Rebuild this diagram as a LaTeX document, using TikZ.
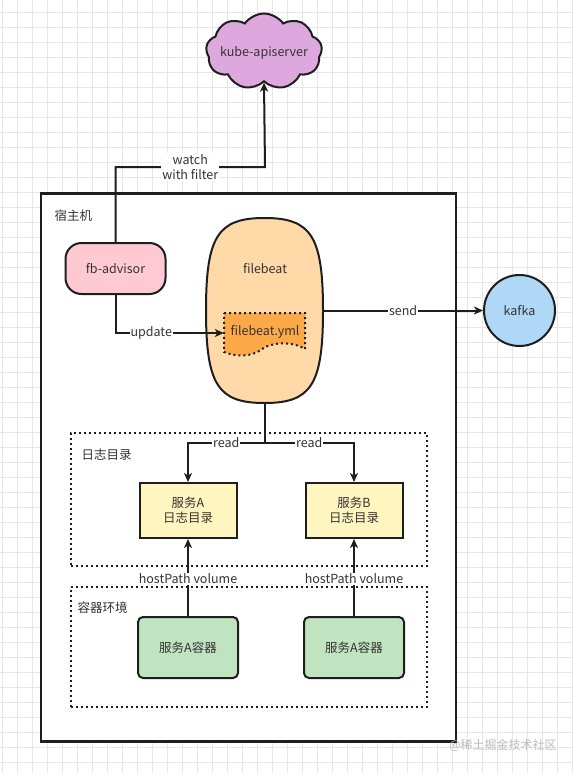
\documentclass[tikz,border=0pt]{standalone}
\usepackage{fontspec}
\setmainfont{Noto Sans CJK SC}
\usetikzlibrary{shapes.symbols,arrows.meta}
\definecolor{txt}{HTML}{333333}
\definecolor{gridc}{HTML}{E6E6E6}
\definecolor{edge}{HTML}{1E1E1E}
\definecolor{cloudfill}{HTML}{DCA8DE}
\definecolor{advfill}{HTML}{FFC9D3}
\definecolor{fbfill}{HTML}{FFD9A8}
\definecolor{ymlfill}{HTML}{FCA94A}
\definecolor{kafkafill}{HTML}{AFD7F6}
\definecolor{logfill}{HTML}{FFF6BF}
\definecolor{ctrfill}{HTML}{C1E4C0}
\definecolor{wm}{HTML}{BBBBBB}
\begin{document}
\begin{tikzpicture}[x=1pt,y=-1pt,
  every node/.style={font=\fontsize{12.5}{15}\selectfont, text=txt},
  shapeline/.style={draw=edge, line width=2pt},
  conn/.style={draw=edge, line width=2pt},
  arr/.style={conn, -{Stealth[length=9pt,width=8pt,inset=2.5pt]}},
  elabel/.style={fill=white, inner sep=1pt, align=center},
  dotbox/.style={draw=edge, line width=2pt, dash pattern=on 2pt off 3pt},
  logbox/.style={shapeline, fill=logfill, minimum width=97pt, minimum height=55pt, align=center, inner sep=0pt},
  ctrbox/.style={shapeline, fill=ctrfill, rounded corners=5pt, minimum width=100pt, minimum height=61pt, inner sep=0pt},
]
\useasboundingbox (0,0) rectangle (573,773);
\fill[white] (0,0) rectangle (573,773);
% background grid
\foreach \i in {0,...,38} \draw[gridc, line width=0.8pt] ({2+15*\i},0) -- ({2+15*\i},773);
\foreach \j in {0,...,50} \draw[gridc, line width=0.8pt] (0,{12.5+15*\j}) -- (573,{12.5+15*\j});

% host box
\node[draw=edge, line width=2.2pt, fill=white, minimum width=415pt, minimum height=548pt, inner sep=0pt] (host) at (248.5,467.5) {};
\node[anchor=west] (hostlbl) at (51,216) {宿主机};

% dotted groups
\node[dotbox, minimum width=356pt, minimum height=133pt, inner sep=0pt] (logs) at (248.8,499) {};
\node[anchor=west] (logslbl) at (78,455) {日志目录};
\node[dotbox, minimum width=356pt, minimum height=120pt, inner sep=0pt] (ctr) at (248.8,647) {};
\node[anchor=west] (ctrlbl) at (74,608) {容器环境};

% cloud
\node[cloud, cloud puffs=9, cloud puff arc=110, aspect=1.6, shapeline, fill=cloudfill,
      minimum width=116pt, minimum height=76pt, inner sep=0pt] (api) at (264,51.5) {};
\node (apit) at (264,53) {kube-apiserver};

% fb-advisor
\node[shapeline, fill=advfill, rounded corners=16pt, minimum width=100pt, minimum height=51pt, inner sep=0pt] (adv) at (115.5,268.5) {fb-advisor};

% filebeat
\node[minimum width=117pt, minimum height=185pt, inner sep=0pt] (fb) at (264.5,310.5) {};
\draw[shapeline, fill=fbfill]
  (206,310.5) .. controls (206,236) and (218,218) .. (264.5,218)
  .. controls (311,218) and (323,236) .. (323,310.5)
  .. controls (323,385) and (311,403) .. (264.5,403)
  .. controls (218,403) and (206,385) .. (206,310.5) -- cycle;
\node (fbt) at (265,269) {filebeat};

% filebeat.yml
\node[minimum width=81pt, minimum height=40pt, inner sep=0pt] (yml) at (264.5,333) {};
\draw[dotbox, fill=ymlfill]
  (224,313) -- (305,313) -- (305,349)
  .. controls (292,341) and (272,342) .. (262,349)
  .. controls (252,357) and (236,357) .. (224,352) -- cycle;
\node (ymlt) at (265,332) {filebeat.yml};

% kafka
\node[circle, shapeline, fill=kafkafill, minimum size=71pt, inner sep=0pt] (kafka) at (519.5,310.5) {kafka};

% log dirs
\node[logbox] (sa) at (188,510.5) {服务A\\日志目录};
\node[logbox] (sb) at (354,510.5) {服务B\\日志目录};

% containers
\node[ctrbox] (ca) at (188,647.5) {服务A容器};
\node[ctrbox] (cb) at (354,647.5) {服务A容器};

% connectors
\coordinate (wturn) at (265,167);
\draw[arr] (adv.north) |- node[elabel, pos=0.75] {watch\\with filter} (wturn) -- (api.south);
\draw[arr] (adv.south) |- node[elabel, pos=0.665] {update} (yml.west);
\draw[arr] (fb.east) -- node[elabel, pos=0.5] {send} (kafka.west);
\coordinate (rd) at (264.5,442.7);
\draw[conn] (fb.south) -- (rd);
\draw[arr] (rd) -| node[elabel, pos=0.25] {read} (sa.north);
\draw[arr] (rd) -| node[elabel, pos=0.25] {read} (sb.north);
\draw[arr] (ca.north) -- node[elabel, pos=0.48] {hostPath volume} (sa.south);
\draw[arr] (cb.north) -- node[elabel, pos=0.48] {hostPath volume} (sb.south);

% watermark
\node[text=wm, font=\fontsize{12}{14}\selectfont] (wmk) at (503,745) {@稀土掘金技术社区};
\end{tikzpicture}
\end{document}
